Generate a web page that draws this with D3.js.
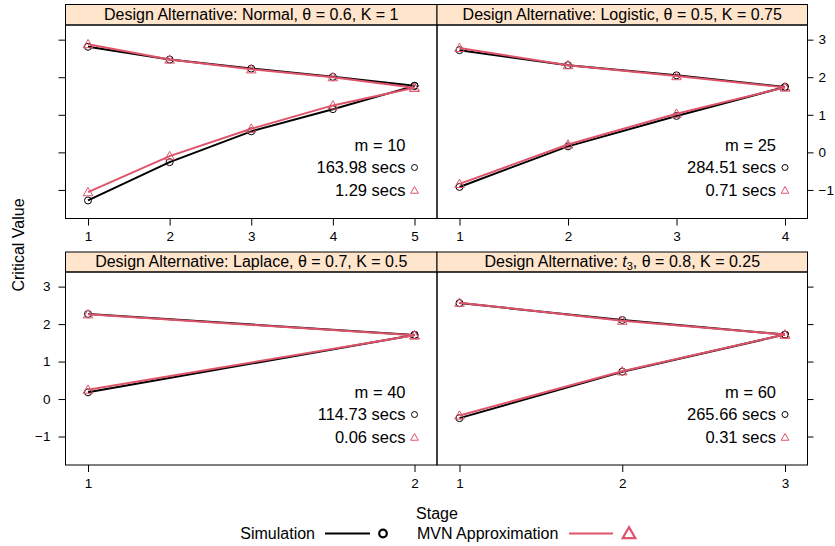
<!DOCTYPE html>
<html>
<head>
<meta charset="utf-8">
<script src="https://cdn.jsdelivr.net/npm/d3@7"></script>
<style>
body { margin: 0; background: #fff; }
svg text { font-family: "Liberation Sans", Arial, sans-serif; fill: #000; }
.tick text { font-size: 13.5px; }
.tick line, .domain { stroke: #000; }
</style>
</head>
<body>
<svg id="chart" width="835" height="546"></svg>
<script>
// values, one entry per panel
var dist_names = ['Normal', 'Logistic', 'Laplace', 't3']
var theta_vals = ['0.6', '0.5', '0.7', '0.8']
var k_vals = ['1', '0.75', '0.5', '0.25']
var m_values = [10, 25, 40, 60]
var sim_secs = ['163.98', '284.51', '114.73', '265.66']
var mvn_secs = ['1.29', '0.71', '0.06', '0.31']
var sim_upper = [[2.81, 2.47, 2.23, 2.01, 1.77], [2.72, 2.32, 2.05, 1.74], [2.27, 1.71], [2.56, 2.11, 1.72]]
var sim_lower = [[-1.28, -0.26, 0.56, 1.15, 1.77], [-0.92, 0.16, 0.97, 1.74], [0.18, 1.71], [-0.51, 0.73, 1.72]]
var mvn_upper = [[2.88, 2.47, 2.21, 2.00, 1.72], [2.78, 2.32, 2.03, 1.73], [2.26, 1.70], [2.57, 2.09, 1.72]]
var mvn_lower = [[-1.06, -0.10, 0.63, 1.25, 1.72], [-0.84, 0.21, 1.03, 1.73], [0.25, 1.70], [-0.44, 0.74, 1.72]]
var y_ticks = [-1, 0, 1, 2, 3]
var y_lim = [-1.76, 3.39]

var COL_SIM = '#000000', COL_MVN = '#DF536B', COL_STRIP = '#FFE5CC'

var svg = d3.select('#chart')
// panel boxes: col edges and row edges
var col_x = [[65.5, 437], [437, 807.5]]
var row_y = [[4.5, 25, 218.5], [252, 272, 465]]
var X_PAD = 22.5

var tri = d3.symbol().type(d3.symbolTriangle)

function draw_panel(i, col, row)
{
	var x0 = col_x[col][0], x1 = col_x[col][1]
	var ys = row_y[row][0], y0 = row_y[row][1], y1 = row_y[row][2]
	var n = sim_upper[i].length
	var stages = d3.range(1, n + 1)
	var x = d3.scaleLinear().domain([1, n]).range([x0 + X_PAD, x1 - X_PAD])
	var y = d3.scaleLinear().domain(y_lim).range([y1, y0])
	var g = svg.append('g')

	// strip
	g.append('rect').attr('x', x0).attr('y', ys).attr('width', x1 - x0).attr('height', y0 - ys)
		.attr('fill', COL_STRIP).attr('stroke', '#000').attr('stroke-width', 1)
	var st = g.append('text').attr('x', (x0 + x1) / 2).attr('y', y0 - 5)
		.attr('text-anchor', 'middle').style('font-size', '16px')
	if(dist_names[i] == 't3')
	{
		st.append('tspan').text('Design Alternative: ')
		st.append('tspan').style('font-style', 'italic').text('t')
		st.append('tspan').attr('dy', 3).style('font-size', '11px').text('3')
		st.append('tspan').attr('dy', -3).text(', θ = ' + theta_vals[i] + ', K = ' + k_vals[i])
	}
	else
		st.text('Design Alternative: ' + dist_names[i] + ', θ = ' + theta_vals[i] + ', K = ' + k_vals[i])

	// axes
	var xa = g.append('g').attr('transform', 'translate(0,' + y1 + ')')
		.call(d3.axisBottom(x).tickValues(stages).tickFormat(d3.format('d')).tickSize(7).tickPadding(6))
	xa.select('.domain').remove()
	var show_left = (col == 0 && row == 1), show_right = (col == 1 && row == 0)
	var ya
	if(col == 0)
		ya = g.append('g').attr('transform', 'translate(' + x0 + ',0)')
			.call(d3.axisLeft(y).tickValues(y_ticks).tickSize(7).tickPadding(8).tickFormat(show_left ? d3.format('d') : ''))
	else
		ya = g.append('g').attr('transform', 'translate(' + x1 + ',0)')
			.call(d3.axisRight(y).tickValues(y_ticks).tickSize(6).tickPadding(5).tickFormat(show_right ? d3.format('d') : ''))
	ya.select('.domain').remove()

	// panel box
	g.append('rect').attr('x', x0).attr('y', y0).attr('width', x1 - x0).attr('height', y1 - y0)
		.attr('fill', 'none').attr('stroke', '#000').attr('stroke-width', 1)

	var line = d3.line().x(function(d, j){ return x(j + 1) }).y(function(d){ return y(d) })
	var series = [
		{vals: [sim_upper[i], sim_lower[i]], col: COL_SIM, shape: 'circle'},
		{vals: [mvn_upper[i], mvn_lower[i]], col: COL_MVN, shape: 'tri'}
	]
	series.forEach(function(s)
	{
		s.vals.forEach(function(v)
		{
			g.append('path').attr('d', line(v)).attr('fill', 'none')
				.attr('stroke', s.col).attr('stroke-width', 2)
			v.forEach(function(d, j)
			{
				if(s.shape == 'circle')
					g.append('circle').attr('cx', x(j + 1)).attr('cy', y(d)).attr('r', 3.5)
						.attr('fill', 'none').attr('stroke', s.col).attr('stroke-width', 1)
				else
					g.append('path').attr('d', tri.size(40)())
						.attr('transform', 'translate(' + x(j + 1) + ',' + (y(d) + 0.8) + ')')
						.attr('fill', 'none').attr('stroke', s.col).attr('stroke-width', 1)
			})
		})
	})

	// annotation
	var ax = x(n), tx = ax - 9
	var ay = [y0 + 126, y0 + 148, y0 + 171]
	g.append('text').attr('x', tx).attr('y', ay[0]).attr('text-anchor', 'end').style('font-size', '16.5px')
		.text('m = ' + m_values[i])
	g.append('text').attr('x', tx).attr('y', ay[1]).attr('text-anchor', 'end').style('font-size', '16.5px')
		.text(sim_secs[i] + ' secs')
	g.append('text').attr('x', tx).attr('y', ay[2]).attr('text-anchor', 'end').style('font-size', '16.5px')
		.text(mvn_secs[i] + ' secs')
	g.append('circle').attr('cx', ax).attr('cy', ay[1] - 5.5).attr('r', 3)
		.attr('fill', 'none').attr('stroke', COL_SIM).attr('stroke-width', 1)
	g.append('path').attr('d', tri.size(26)()).attr('transform', 'translate(' + ax + ',' + (ay[2] - 5) + ')')
		.attr('fill', 'none').attr('stroke', COL_MVN).attr('stroke-width', 1)
}

draw_panel(0, 0, 0)
draw_panel(1, 1, 0)
draw_panel(2, 0, 1)
draw_panel(3, 1, 1)

// axis titles
svg.append('text').attr('transform', 'translate(24,245) rotate(-90)').attr('text-anchor', 'middle')
	.style('font-size', '16px').text('Critical Value')
svg.append('text').attr('x', 437).attr('y', 519).attr('text-anchor', 'middle')
	.style('font-size', '16px').text('Stage')

// legend
var lg = svg.append('g')
lg.append('text').attr('x', 315).attr('y', 539).attr('text-anchor', 'end').style('font-size', '16px').text('Simulation')
lg.append('line').attr('x1', 325).attr('x2', 370).attr('y1', 533.5).attr('y2', 533.5).attr('stroke', COL_SIM).attr('stroke-width', 2)
lg.append('circle').attr('cx', 383).attr('cy', 533.5).attr('r', 3.8).attr('fill', 'none').attr('stroke', COL_SIM).attr('stroke-width', 2.2)
lg.append('text').attr('x', 417).attr('y', 539).style('font-size', '16px').text('MVN Approximation')
lg.append('line').attr('x1', 569).attr('x2', 613).attr('y1', 533.5).attr('y2', 533.5).attr('stroke', COL_MVN).attr('stroke-width', 2)
lg.append('path').attr('d', tri.size(70)()).attr('transform', 'translate(629,534.5)')
	.attr('fill', 'none').attr('stroke', COL_MVN).attr('stroke-width', 2.2)
</script>
</body>
</html>
